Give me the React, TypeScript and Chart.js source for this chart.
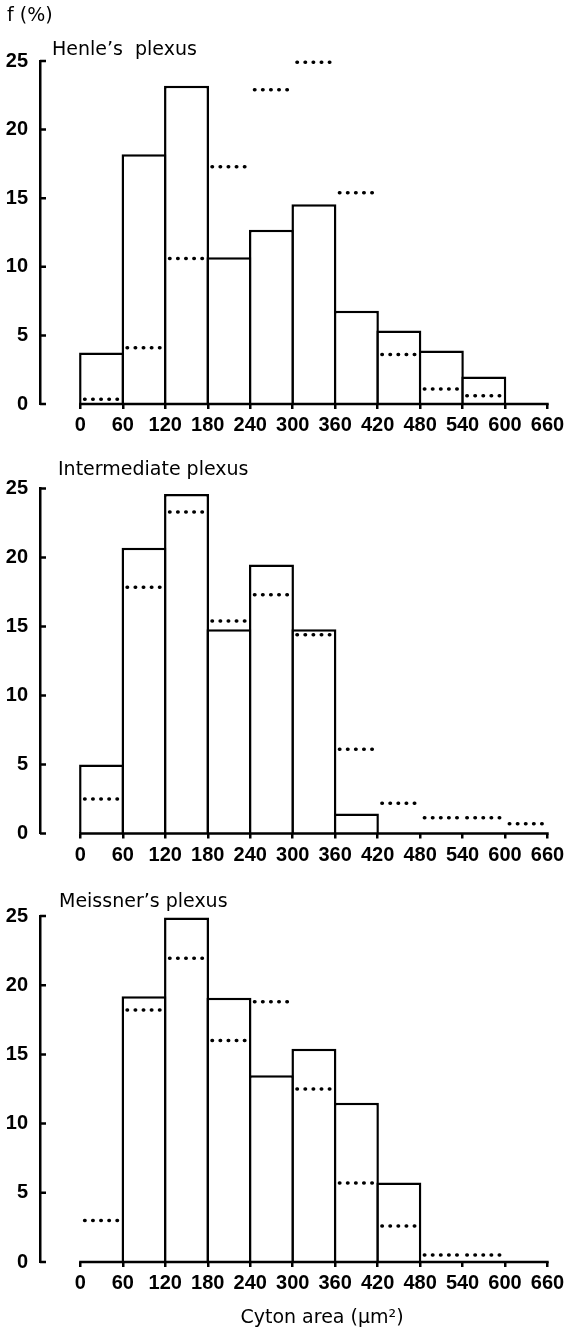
import React, { useEffect, useRef } from 'react';
import { Chart, registerables } from 'chart.js';

Chart.register(...registerables);

// ---- data ----
const BIN_STARTS = [0, 60, 120, 180, 240, 300, 360, 420, 480, 540, 600];
const X_TICKS = [0, 60, 120, 180, 240, 300, 360, 420, 480, 540, 600, 660];
const Y_TICKS = [0, 5, 10, 15, 20, 25];

const HENLE_BARS = [3.75, 18.2, 23.2, 10.7, 12.7, 14.55, 6.8, 5.35, 3.9, 2.0, null];
const HENLE_DOTS = [0.35, 4.1, 10.6, 17.3, 22.9, 24.9, 15.4, 3.6, 1.1, 0.6, null];

const INTER_BARS = [5.0, 20.7, 24.6, 14.8, 19.5, 14.8, 1.45, null, null, null, null];
const INTER_DOTS = [2.5, 17.85, 23.3, 15.4, 17.3, 14.4, 6.1, 2.2, 1.15, 1.15, 0.7];

const MEISS_BARS = [null, 19.2, 24.9, 19.1, 13.5, 15.4, 11.5, 5.75, null, null, null];
const MEISS_DOTS = [3.0, 18.2, 21.95, 16.0, 18.8, 12.5, 5.7, 2.6, 0.5, 0.5, null];

const TITLES = ['Henle’s  plexus', 'Intermediate plexus', 'Meissner’s plexus'];
const Y_LABEL = 'f (%)';
const X_LABEL = 'Cyton area (μm²)';

const BIN_WIDTH = 60;
const X_MIN = -57;
const X_MAX = 660;
const LINE_W = 2.5;

const TICK_FONT = { family: "'Liberation Sans', Arial, sans-serif", size: 20, weight: 'bold' as const };
const TEXT_FONT = "19px 'DejaVu Sans', sans-serif";

const axisExtras = {
  id: 'axisExtras',
  afterDatasetsDraw(chart: any) {
    const { ctx, chartArea, scales } = chart;
    const x = scales.x;
    const y = scales.y;
    ctx.save();
    ctx.strokeStyle = '#000';
    ctx.lineWidth = LINE_W;
    ctx.lineCap = 'butt';
    ctx.beginPath();
    const yb = y.getPixelForValue(0);
    ctx.moveTo(x.getPixelForValue(X_TICKS[0]) - 1.2, yb);
    ctx.lineTo(x.getPixelForValue(X_TICKS[X_TICKS.length - 1]) + 1.2, yb);
    Y_TICKS.forEach((v) => {
      const py = y.getPixelForValue(v);
      ctx.moveTo(chartArea.left, py);
      ctx.lineTo(chartArea.left + 6, py);
    });
    ctx.stroke();
    ctx.restore();
  },
};

const panelText = {
  id: 'panelText',
  afterDraw(chart: any, _args: any, opts: any) {
    const { ctx } = chart;
    ctx.save();
    ctx.fillStyle = '#000';
    ctx.font = TEXT_FONT;
    ctx.textBaseline = 'alphabetic';
    (opts.items || []).forEach((it: any) => {
      ctx.textAlign = it.align || 'left';
      ctx.fillText(it.text, it.x, it.y);
    });
    ctx.restore();
  },
};

interface Panel {
  top: number;
  axisHeight: number;
  texts: { text: string; x: number; y: number; align?: string }[];
}

function buildChart(canvas: HTMLCanvasElement, bars: (number | null)[], dots: (number | null)[], panel: Panel) {
  const barData = BIN_STARTS.map((s, i) => ({ x: s + BIN_WIDTH / 2, y: bars[i] }));
  const dotData: { x: number; y: number | null }[] = [];
  BIN_STARTS.forEach((s, i) => {
    const v = dots[i];
    if (v == null) return;
    dotData.push({ x: s + 6, y: v }, { x: s + 54, y: v }, { x: s + BIN_WIDTH, y: null });
  });

  return new Chart(canvas, {
    type: 'bar',
    data: {
      datasets: [
        {
          type: 'line',
          data: dotData as any,
          order: 0,
          borderColor: '#000',
          borderWidth: 3.5,
          borderCapStyle: 'round',
          borderDash: [0.5, 7.6],
          pointRadius: 0,
          spanGaps: false,
          fill: false,
          clip: false as any,
        } as any,
        {
          type: 'bar',
          data: barData as any,
          order: 1,
          backgroundColor: '#fff',
          borderColor: '#000',
          borderWidth: LINE_W,
          borderSkipped: 'start',
          categoryPercentage: 1,
          barPercentage: 1.0589,
        } as any,
      ],
    },
    options: {
      responsive: false,
      animation: false,
      events: [],
      layout: { padding: { top: panel.top, left: 0, right: 22.5, bottom: 0 } },
      plugins: {
        legend: { display: false },
        tooltip: { enabled: false },
        panelText: { items: panel.texts },
      } as any,
      scales: {
        x: {
          type: 'linear',
          min: X_MIN,
          max: X_MAX,
          offset: false,
          afterBuildTicks: (s: any) => {
            s.ticks = X_TICKS.map((v) => ({ value: v }));
          },
          afterFit: (s: any) => {
            s.height = panel.axisHeight;
          },
          grid: {
            display: true,
            drawOnChartArea: false,
            drawTicks: true,
            tickLength: 5,
            lineWidth: LINE_W,
            color: '#000',
            offset: false,
          },
          border: { display: false },
          ticks: {
            color: '#000',
            font: TICK_FONT,
            padding: 4.5,
            maxRotation: 0,
            autoSkip: false,
            callback: (v: any) => String(v),
          },
        },
        y: {
          type: 'linear',
          min: 0,
          max: 25,
          afterBuildTicks: (s: any) => {
            s.ticks = Y_TICKS.map((v) => ({ value: v }));
          },
          afterFit: (s: any) => {
            s.width = 40;
          },
          grid: { display: false, drawTicks: false, tickLength: 0 },
          border: { display: true, color: '#000', width: LINE_W },
          ticks: {
            color: '#000',
            font: TICK_FONT,
            padding: 12,
            callback: (v: any) => String(v),
          },
        },
      } as any,
    },
    plugins: [axisExtras, panelText],
  } as any);
}

export default function App() {
  const r1 = useRef<HTMLCanvasElement>(null);
  const r2 = useRef<HTMLCanvasElement>(null);
  const r3 = useRef<HTMLCanvasElement>(null);

  useEffect(() => {
    const charts = [
      buildChart(r1.current!, HENLE_BARS, HENLE_DOTS, {
        top: 61,
        axisHeight: 36,
        texts: [
          { text: Y_LABEL, x: 7, y: 21 },
          { text: TITLES[0], x: 52, y: 55 },
        ],
      }),
      buildChart(r2.current!, INTER_BARS, INTER_DOTS, {
        top: 48.5,
        axisHeight: 46.5,
        texts: [{ text: TITLES[1], x: 58, y: 35 }],
      }),
      buildChart(r3.current!, MEISS_BARS, MEISS_DOTS, {
        top: 36,
        axisHeight: 66,
        texts: [
          { text: TITLES[2], x: 59, y: 27 },
          { text: X_LABEL, x: 322, y: 443, align: 'center' },
        ],
      }),
    ];
    return () => charts.forEach((c) => c.destroy());
  }, []);

  return (
    <div style={{ position: 'absolute', left: 0, top: 0, width: 570, height: 1328, background: '#fff' }}>
      <canvas ref={r1} width={570} height={440} style={{ position: 'absolute', left: 0, top: 0 }} />
      <canvas ref={r2} width={570} height={440} style={{ position: 'absolute', left: 0, top: 440 }} />
      <canvas ref={r3} width={570} height={448} style={{ position: 'absolute', left: 0, top: 880 }} />
    </div>
  );
}
